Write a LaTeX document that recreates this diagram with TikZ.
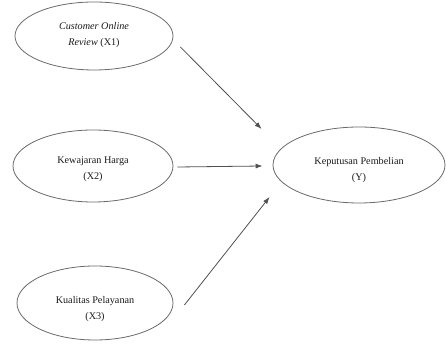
\documentclass[tikz,border=0pt]{standalone}
\usepackage{fontspec}
\setmainfont{Liberation Serif}
\usetikzlibrary{shapes.geometric,arrows.meta}
\definecolor{linegray}{HTML}{505050}
\definecolor{ellgray}{HTML}{6A6A6A}
\definecolor{txt}{HTML}{1A1A1A}
\tikzset{
  var/.style={draw=ellgray, line width=0.8pt, ellipse, inner sep=0pt},
  lbl/.style={align=center, text=txt, inner sep=0pt, font=\fontsize{10.2}{16}\selectfont},
  arr/.style={draw=linegray, line width=0.8pt, -{Latex[length=7pt,width=5pt]}}
}
\begin{document}
\begin{tikzpicture}[x=1pt,y=1pt]
\useasboundingbox (0,0) rectangle (446,347);
\node[var, minimum width=158pt, minimum height=68pt,
  label={[lbl, yshift=1pt]center:{\textit{Customer Online}\\\textit{Review} (X1)}}] (x1) at (94,311) {};
\node[var, minimum width=160pt, minimum height=72pt,
  label={[lbl, yshift=-3pt]center:{Kewajaran Harga\\(X2)}}] (x2) at (93,181) {};
\node[var, minimum width=156pt, minimum height=74pt,
  label={[lbl, yshift=-6pt]center:{Kualitas Pelayanan\\(X3)}}] (x3) at (95,44) {};
\node[var, minimum width=172pt, minimum height=76pt,
  label={[lbl, yshift=-5pt]center:{Keputusan Pembelian\\(Y)}}] (y) at (359,182) {};
\draw[arr] ([shift={(7pt,-11pt)}]x1.east) -- ([shift={(-11pt,36pt)}]y.west);
\draw[arr] ([shift={(4pt,-1pt)}]x2.east) -- ([shift={(-10pt,-1pt)}]y.west);
\draw[arr] ([shift={(11pt,-2pt)}]x3.east) -- ([shift={(-3pt,-32pt)}]y.west);
\end{tikzpicture}
\end{document}
